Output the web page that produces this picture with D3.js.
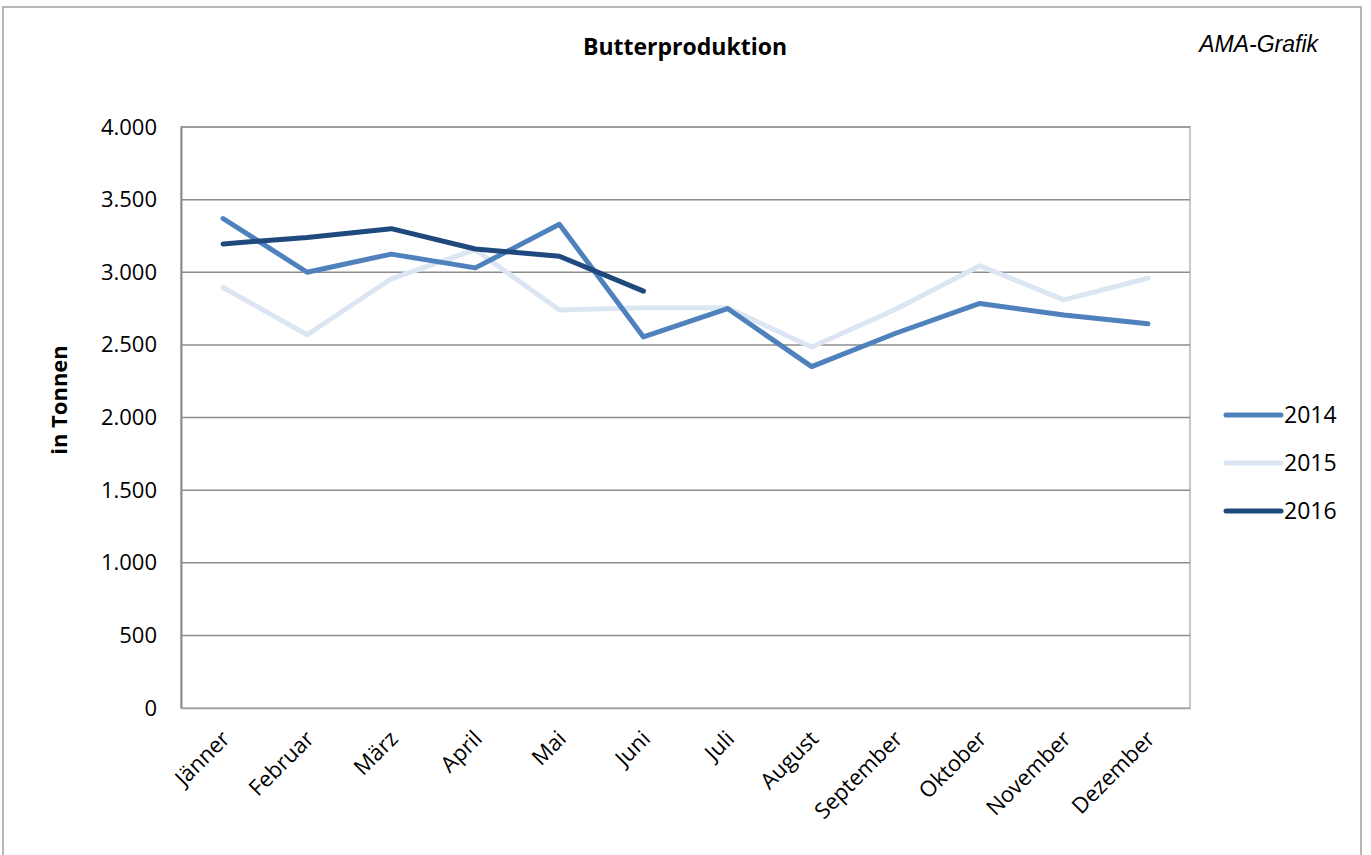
<!DOCTYPE html>
<html>
<head>
<meta charset="utf-8">
<script src="https://cdn.jsdelivr.net/npm/d3@7"></script>
<style>
  body { margin: 0; background: #fff; }
  text { font-family: "Open Sans", "Noto Sans", sans-serif; }
</style>
</head>
<body>
<script>
var months = ["Jänner", "Februar", "März", "April", "Mai", "Juni", "Juli",
  "August", "September", "Oktober", "November", "Dezember"];
var years = ["2014", "2015", "2016"];
var values2014 = [3370, 3000, 3125, 3030, 3330, 2555, 2750, 2350, 2580, 2785, 2705, 2645];
var values2015 = [2895, 2570, 2955, 3155, 2740, 2755, 2755, 2485, 2745, 3045, 2810, 2960];
var values2016 = [3195, 3240, 3300, 3160, 3110, 2870];
var yTicks = [0, 500, 1000, 1500, 2000, 2500, 3000, 3500, 4000];
var colors = ["#4f81bd", "#dce6f2", "#1f497d"];

var width = 1371,
	height = 855;

var svg = d3.select("body").append("svg")
	.attr("width", width)
	.attr("height", height);

// outer frame
svg.append("rect")
	.attr("x", 3).attr("y", 7)
	.attr("width", 1358).attr("height", 860)
	.attr("fill", "none")
	.attr("stroke", "#a0a0a0")
	.attr("stroke-width", 1.5);

var x = d3.scaleBand()
	.domain(months)
	.range([181, 1190]);

var y = d3.scaleLinear()
	.domain([0, 4000])
	.range([708, 127]);

// plot area border
svg.append("rect")
	.attr("x", 181).attr("y", 127)
	.attr("width", 1190 - 181).attr("height", 708 - 127)
	.attr("fill", "none")
	.attr("stroke", "#b8b8b8")
	.attr("stroke-width", 1.5);

// gridlines
svg.append("g").selectAll("line")
	.data(yTicks.filter(function(d){ return d > 0; }))
	.enter().append("line")
	.attr("x1", 181).attr("x2", 1190)
	.attr("y1", function(d){ return y(d); })
	.attr("y2", function(d){ return y(d); })
	.attr("stroke", "#8c8c8c")
	.attr("stroke-width", 1.5);

// y axis
var yAxis = svg.append("g")
	.attr("transform", "translate(181,0)")
	.call(d3.axisLeft(y).tickValues(yTicks).tickSize(0).tickPadding(24)
		.tickFormat(function(d){ return d3.format(",")(d).replace(/,/g, "."); }));
yAxis.select(".domain").attr("stroke", "#8c8c8c").attr("stroke-width", 2);
yAxis.selectAll("text").attr("font-size", 22).attr("fill", "#000");

// x axis
var xAxis = svg.append("g")
	.attr("transform", "translate(0,708)")
	.call(d3.axisBottom(x).tickSize(0));
xAxis.select(".domain").attr("stroke", "#a0a0a0").attr("stroke-width", 1.5);
xAxis.selectAll("text")
	.attr("font-size", 22)
	.attr("fill", "#000")
	.attr("text-anchor", "end")
	.attr("dy", 0)
	.attr("transform", "translate(6,30) rotate(-45)");

var line = d3.line()
	.x(function(d, i){ return x(months[i]) + x.bandwidth() / 2; })
	.y(function(d){ return y(d); });

var series = [values2014, values2015, values2016];
var drawOrder = [1, 0, 2];

drawOrder.forEach(function(k){
	svg.append("path")
		.datum(series[k])
		.attr("d", line)
		.attr("fill", "none")
		.attr("stroke", colors[k])
		.attr("stroke-width", 5)
		.attr("stroke-linejoin", "round")
		.attr("stroke-linecap", "round");
});

// legend
var legend = svg.append("g").selectAll("g")
	.data(years)
	.enter().append("g")
	.attr("transform", function(d, i){ return "translate(1226," + (415 + i * 48) + ")"; });
legend.append("line")
	.attr("x1", 0).attr("x2", 55)
	.attr("stroke", function(d, i){ return colors[i]; })
	.attr("stroke-width", 5)
	.attr("stroke-linecap", "round");
legend.append("text")
	.attr("x", 58).attr("dy", "0.35em")
	.attr("font-size", 23)
	.text(function(d){ return d; });

// titles
svg.append("text")
	.attr("x", 685).attr("y", 55)
	.attr("text-anchor", "middle")
	.attr("font-size", 23)
	.attr("font-weight", "bold")
	.text("Butterproduktion");

svg.append("text")
	.attr("x", 1318).attr("y", 52)
	.attr("text-anchor", "end")
	.attr("font-size", 23)
	.attr("font-style", "italic")
	.style("font-family", "'Liberation Sans', Arial, sans-serif")
	.text("AMA-Grafik");

svg.append("text")
	.attr("transform", "translate(67,400) rotate(-90)")
	.attr("text-anchor", "middle")
	.attr("font-size", 22)
	.attr("font-weight", "bold")
	.text("in Tonnen");
</script>
</body>
</html>
